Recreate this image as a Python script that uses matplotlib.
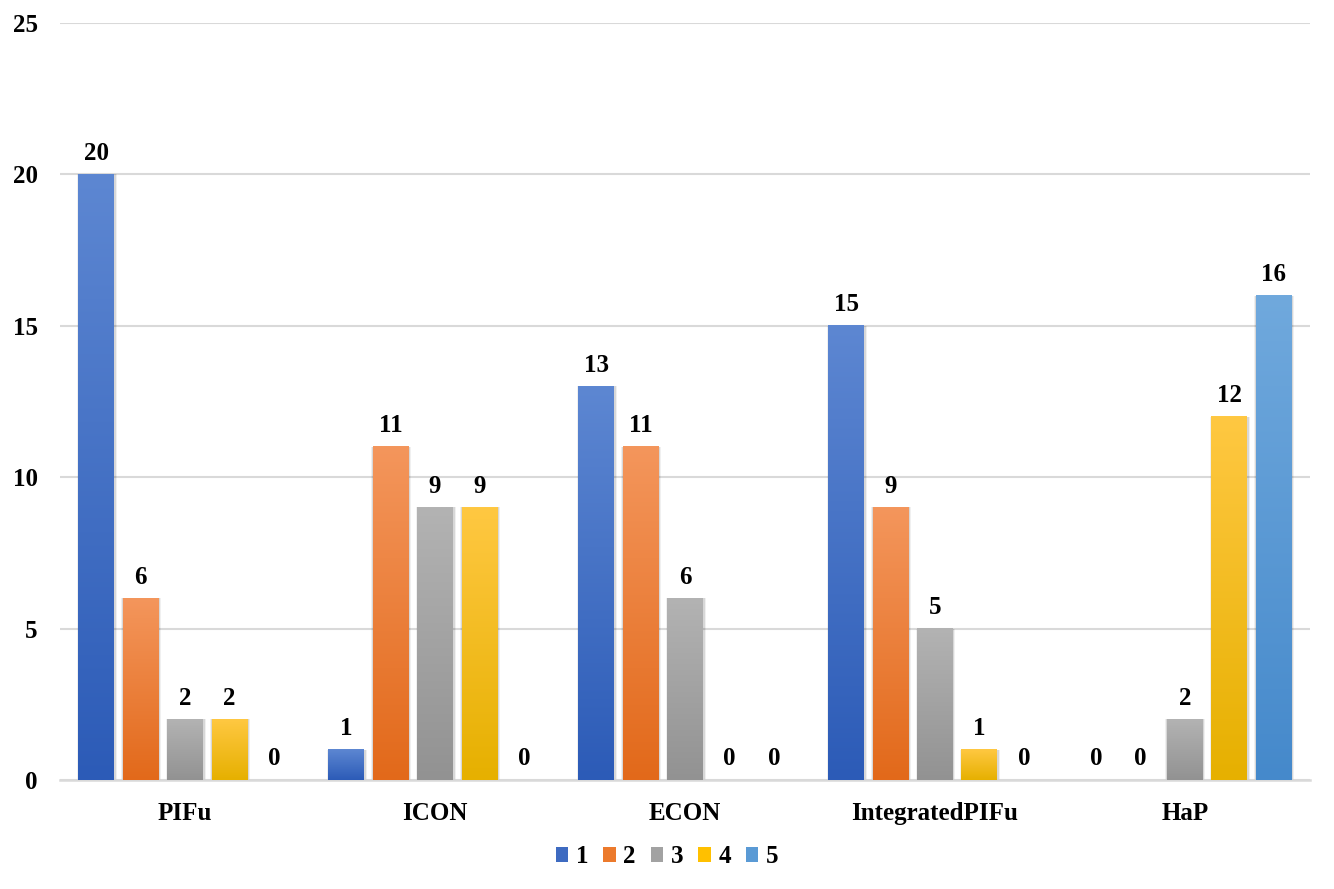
import numpy as np
import matplotlib
matplotlib.use("Agg")
import matplotlib.pyplot as plt
from matplotlib.colors import LinearSegmentedColormap
from matplotlib.patches import Patch

plt.rcParams["font.family"] = ["Liberation Serif", "DejaVu Serif"]
plt.rcParams["font.weight"] = "bold"

methods = ["PIFu", "ICON", "ECON", "IntegratedPIFu", "HaP"]
series_names = ["1", "2", "3", "4", "5"]
rank1 = [20, 1, 13, 15, 0]
rank2 = [6, 11, 11, 9, 0]
rank3 = [2, 9, 6, 5, 2]
rank4 = [2, 9, 0, 1, 12]
rank5 = [0, 0, 0, 0, 16]
values = [rank1, rank2, rank3, rank4, rank5]

# (top, bottom) gradient colours per series
colors = [
    ("#5D87D2", "#2C5BB7"),
    ("#F4965C", "#E2691A"),
    ("#B3B3B3", "#929292"),
    ("#FFC842", "#E6B000"),
    ("#70A9DD", "#4589CB"),
]
legend_colors = ["#3E6BC1", "#EC7A2C", "#A2A2A2", "#FFC000", "#5A9AD5"]

fig = plt.figure(figsize=(13.34, 8.89), dpi=100)
ax = fig.add_axes([0.045, 0.1226, 0.937, 0.8515])

x = np.arange(len(methods))
pitch = 0.178
width = 0.144
grad = np.linspace(0, 1, 256).reshape(-1, 1)

for i, (vals, (top, bottom)) in enumerate(zip(values, colors)):
    cmap = LinearSegmentedColormap.from_list(f"g{i}", [bottom, top])
    xs = x + (i - 2) * pitch
    for xc, v in zip(xs, vals):
        if v > 0:
            # soft shadow
            for extra, a in [(0.016, 0.06), (0.008, 0.10)]:
                ax.bar(xc + 0.002, v, width + extra, color="#000000", alpha=a,
                       linewidth=0, zorder=2)
            ax.imshow(grad, extent=[xc - width / 2, xc + width / 2, 0, v],
                      origin="lower", aspect="auto", cmap=cmap, zorder=3)
        ax.annotate(str(v), (xc, v), xytext=(0, 7), textcoords="offset points",
                    ha="center", va="bottom", fontsize=18, fontweight="bold")

ax.set_xlim(-0.5, 4.5)
ax.set_ylim(0, 25)
ax.set_yticks([0, 5, 10, 15, 20, 25])
ax.set_xticks(x)
ax.set_xticklabels(methods)
ax.tick_params(axis="both", length=0, labelsize=18)
ax.tick_params(axis="y", pad=16)
ax.tick_params(axis="x", pad=16)
for lbl in ax.get_xticklabels() + ax.get_yticklabels():
    lbl.set_fontweight("bold")

ax.yaxis.grid(True, color="#D9D9D9", linewidth=1.5, zorder=0)
ax.set_axisbelow(True)
for s in ["top", "right", "left"]:
    ax.spines[s].set_visible(False)
ax.spines["bottom"].set_color("#D9D9D9")
ax.spines["bottom"].set_linewidth(1.8)

handles = [Patch(facecolor=c, label=n) for c, n in zip(legend_colors, series_names)]
fig.legend(handles=handles, loc="center", bbox_to_anchor=(0.5, 0.036), ncol=5,
           frameon=False, fontsize=18, handlelength=0.5, handleheight=0.5,
           handletextpad=0.3, columnspacing=0.6)

fig.savefig("out.png", dpi=100)
